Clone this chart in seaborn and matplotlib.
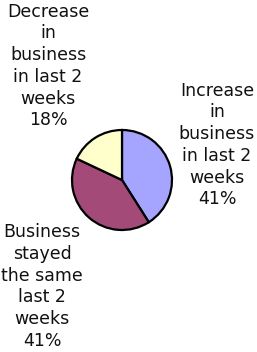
import matplotlib
matplotlib.use('Agg')
import matplotlib.pyplot as plt
import seaborn as sns

sns.set_theme(style='white')
plt.rcParams['font.family'] = ['DejaVu Sans']

# Data
categories = ['Increase\nin\nbusiness\nin last 2\nweeks',
              'Business\nstayed\nthe same\nlast 2\nweeks',
              'Decrease\nin\nbusiness\nin last 2\nweeks']
shares = [41, 41, 18]
colors = ['#A5A5FF', '#A34A78', '#FFFFCC']

# label block centres, in pie-radius units
label_pos = [(1.9, 0.7), (-1.6, -2.13), (-1.48, 2.28)]

fig = plt.figure(figsize=(2.57, 3.52), dpi=100)
ax = fig.add_axes([0, 0, 1, 1])

wedges, texts = ax.pie(shares, colors=colors, startangle=90, counterclock=False,
                       radius=1,
                       wedgeprops=dict(edgecolor='black', linewidth=1.6))

for cat, val, (x, y) in zip(categories, shares, label_pos):
    ax.text(x, y, f'{cat}\n{val}%', ha='center', va='center', fontsize=12.5,
            linespacing=1.27, color='#111111')

# pie centre at (122, 180) px, radius 50 px
ax.set_xlim(-122 / 50, (257 - 122) / 50)
ax.set_ylim(-(352 - 180) / 50, 180 / 50)
ax.set_aspect('auto')
ax.axis('off')

plt.savefig('out.png', dpi=100)
